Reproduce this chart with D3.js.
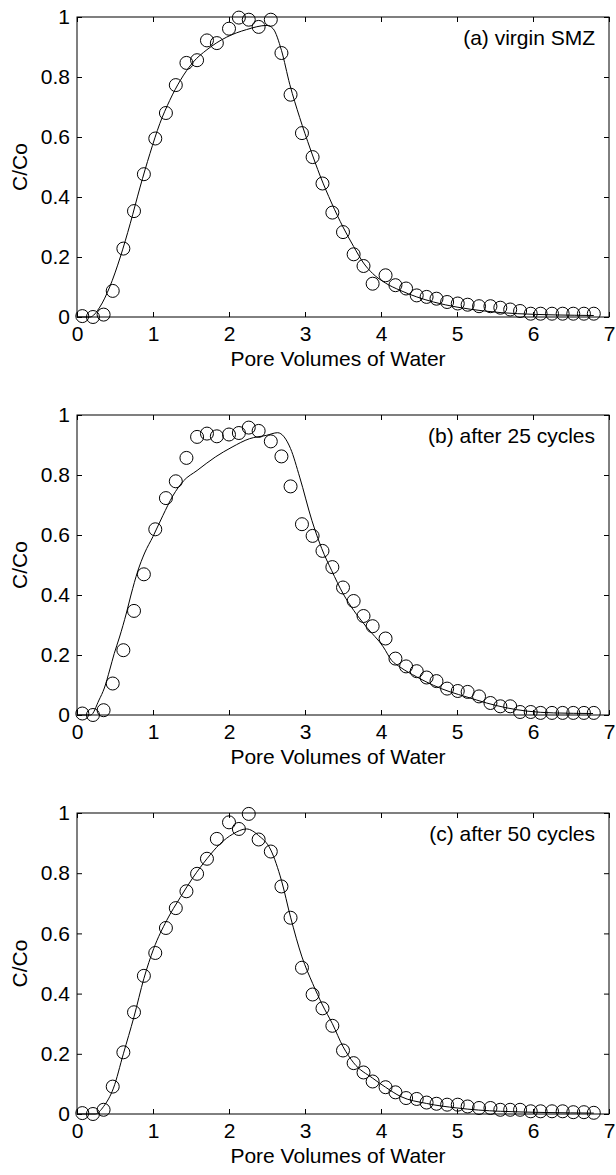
<!DOCTYPE html>
<html>
<head>
<meta charset="utf-8">
<script src="https://cdn.jsdelivr.net/npm/d3@7"></script>
<style>
  body { margin: 0; background: #fff; }
  text { font-family: Arial, "Liberation Sans", sans-serif; fill: #000; }
</style>
</head>
<body>
<script>
// measured pore volumes (same for all three runs)
var poreVolumes = [0.07, 0.21, 0.35, 0.47, 0.61, 0.75, 0.88, 1.03, 1.17, 1.30,
  1.44, 1.58, 1.71, 1.84, 2.00, 2.13, 2.26, 2.39, 2.55, 2.69,
  2.81, 2.96, 3.10, 3.23, 3.36, 3.50, 3.64, 3.77, 3.89, 4.06,
  4.19, 4.33, 4.47, 4.60, 4.73, 4.87, 5.01, 5.14, 5.29, 5.44,
  5.57, 5.70, 5.83, 5.97, 6.10, 6.25, 6.39, 6.53, 6.67, 6.80];

var obsVirgin = [0.003, 0.0, 0.008, 0.087, 0.228, 0.353, 0.476, 0.595, 0.68, 0.773,
  0.847, 0.856, 0.922, 0.913, 0.961, 0.998, 0.991, 0.967, 0.991, 0.88,
  0.741, 0.613, 0.533, 0.445, 0.348, 0.283, 0.209, 0.17, 0.111, 0.139,
  0.106, 0.095, 0.072, 0.067, 0.061, 0.05, 0.045, 0.041, 0.036, 0.036,
  0.031, 0.025, 0.02, 0.011, 0.011, 0.011, 0.011, 0.011, 0.011, 0.011];

var obs25 = [0.005, 0.0, 0.016, 0.105, 0.216, 0.347, 0.469, 0.619, 0.723, 0.779,
  0.857, 0.927, 0.938, 0.929, 0.935, 0.94, 0.958, 0.947, 0.912, 0.862,
  0.762, 0.636, 0.597, 0.547, 0.493, 0.425, 0.38, 0.33, 0.296, 0.255,
  0.188, 0.162, 0.146, 0.125, 0.113, 0.088, 0.08, 0.077, 0.062, 0.04,
  0.029, 0.029, 0.01, 0.01, 0.007, 0.007, 0.007, 0.007, 0.007, 0.007];

var obs50 = [0.003, 0.0, 0.014, 0.091, 0.205, 0.338, 0.459, 0.535, 0.618, 0.684,
  0.74, 0.798, 0.848, 0.914, 0.969, 0.947, 0.997, 0.912, 0.872, 0.756,
  0.652, 0.486, 0.397, 0.351, 0.293, 0.211, 0.169, 0.138, 0.108, 0.089,
  0.072, 0.053, 0.05, 0.038, 0.034, 0.031, 0.031, 0.025, 0.02, 0.02,
  0.014, 0.014, 0.014, 0.009, 0.009, 0.009, 0.009, 0.006, 0.006, 0.004];

// fitted model curves, [pore volume, C/Co]
var fitVirgin = [[0, 0], [0.17, 0], [0.30, 0.033], [0.43, 0.10], [0.57, 0.20], [0.70, 0.311],
  [0.83, 0.433], [0.96, 0.545], [1.09, 0.645], [1.22, 0.722], [1.36, 0.789], [1.53, 0.85],
  [1.71, 0.891], [1.97, 0.933], [2.23, 0.958], [2.50, 0.972], [2.58, 0.961], [2.69, 0.889],
  [2.80, 0.775], [2.93, 0.665], [3.07, 0.56], [3.20, 0.47], [3.35, 0.38], [3.50, 0.30],
  [3.64, 0.235], [3.77, 0.18], [3.89, 0.145], [4.06, 0.113], [4.25, 0.089], [4.47, 0.067],
  [4.69, 0.05], [5.0, 0.033], [5.36, 0.02], [5.8, 0.011], [6.8, 0.005]];

var fit25 = [[0, 0], [0.18, 0], [0.29, 0.05], [0.36, 0.09], [0.43, 0.15], [0.49, 0.205],
  [0.56, 0.26], [0.65, 0.34], [0.71, 0.40], [0.80, 0.48], [0.89, 0.54], [1.0, 0.595],
  [1.13, 0.665], [1.26, 0.73], [1.40, 0.78], [1.58, 0.815], [1.82, 0.86], [2.04, 0.893],
  [2.27, 0.921], [2.49, 0.932], [2.64, 0.941], [2.81, 0.888], [2.93, 0.793], [3.09, 0.649],
  [3.22, 0.555], [3.35, 0.482], [3.50, 0.405], [3.64, 0.349], [3.81, 0.293], [4.03, 0.227],
  [4.14, 0.182], [4.25, 0.16], [4.47, 0.127], [4.69, 0.099], [4.91, 0.077], [5.13, 0.06],
  [5.39, 0.04], [5.65, 0.024], [5.92, 0.013], [6.27, 0.007], [6.79, 0.005]];

var fit50 = [[0, 0], [0.24, 0], [0.35, 0.025], [0.48, 0.086], [0.61, 0.20], [0.75, 0.323],
  [0.88, 0.45], [1.01, 0.55], [1.18, 0.643], [1.36, 0.72], [1.53, 0.787], [1.71, 0.848],
  [1.88, 0.897], [2.05, 0.93], [2.23, 0.947], [2.39, 0.925], [2.55, 0.877], [2.69, 0.776],
  [2.81, 0.654], [2.96, 0.522], [3.10, 0.434], [3.23, 0.362], [3.36, 0.30], [3.50, 0.224],
  [3.64, 0.17], [3.89, 0.119], [4.06, 0.089], [4.26, 0.058], [4.6, 0.035], [5.0, 0.02],
  [5.57, 0.009], [6.8, 0.003]];

var panelLabels = ["(a) virgin SMZ", "(b) after 25 cycles", "(c) after 50 cycles"];
var xTicks = [0, 1, 2, 3, 4, 5, 6, 7];
var yTicks = [0, 0.2, 0.4, 0.6, 0.8, 1];

var panels = [
  {obs: obsVirgin, fit: fitVirgin, label: panelLabels[0], top: 17, h: 300},
  {obs: obs25, fit: fit25, label: panelLabels[1], top: 415, h: 300},
  {obs: obs50, fit: fit50, label: panelLabels[2], top: 813, h: 301}
];

var width = 616, height = 1175;
var left = 77, right = 609;
var fs = 21;

var svg = d3.select("body").append("svg")
  .attr("width", width)
  .attr("height", height);

var x = d3.scaleLinear().domain([0, 7]).range([left, right]);

panels.forEach(function(p) {
  var y = d3.scaleLinear().domain([0, 1]).range([p.top + p.h, p.top]);
  var g = svg.append("g");

  // inward ticks on all four sides, labels only bottom/left
  var xb = g.append("g").attr("transform", "translate(0," + (p.top + p.h) + ")")
    .call(d3.axisBottom(x).tickValues(xTicks).tickSizeInner(-5).tickSizeOuter(0).tickPadding(9).tickFormat(d3.format("d")));
  var xt = g.append("g").attr("transform", "translate(0," + p.top + ")")
    .call(d3.axisTop(x).tickValues(xTicks).tickSizeInner(-5).tickSizeOuter(0).tickFormat(""));
  var yl = g.append("g").attr("transform", "translate(" + left + ",0)")
    .call(d3.axisLeft(y).tickValues(yTicks).tickSizeInner(-5).tickSizeOuter(0).tickPadding(7).tickFormat(function(d) { return d3.format("")(+d.toFixed(1)); }));
  var yr = g.append("g").attr("transform", "translate(" + right + ",0)")
    .call(d3.axisRight(y).tickValues(yTicks).tickSizeInner(-5).tickSizeOuter(0).tickFormat(""));

  [xb, xt, yl, yr].forEach(function(a) {
    a.select(".domain").remove();
    a.selectAll("line").attr("stroke", "#000");
    a.selectAll("text").style("font-size", fs + "px").attr("fill", "#000");
  });

  g.append("rect")
    .attr("x", left).attr("y", p.top)
    .attr("width", right - left).attr("height", p.h)
    .attr("fill", "none").attr("stroke", "#000").attr("stroke-width", 1);

  var line = d3.line()
    .x(function(d) { return x(d[0]); })
    .y(function(d) { return y(d[1]); })
    .curve(d3.curveMonotoneX);

  g.append("path")
    .datum(p.fit)
    .attr("d", line)
    .attr("fill", "none")
    .attr("stroke", "#000")
    .attr("stroke-width", 1);

  g.selectAll("circle.obs")
    .data(p.obs)
    .enter().append("circle")
    .attr("class", "obs")
    .attr("cx", function(d, i) { return x(poreVolumes[i]); })
    .attr("cy", function(d) { return y(d); })
    .attr("r", 6.5)
    .attr("fill", "none")
    .attr("stroke", "#000")
    .attr("stroke-width", 1);

  g.append("text")
    .attr("x", right - 14)
    .attr("y", p.top + 28)
    .attr("text-anchor", "end")
    .style("font-size", fs + "px")
    .text(p.label);

  g.append("text")
    .attr("x", (left + right) / 2 - 5)
    .attr("y", p.top + p.h + 49)
    .attr("text-anchor", "middle")
    .style("font-size", fs + "px")
    .text("Pore Volumes of Water");

  g.append("text")
    .attr("transform", "translate(27," + (p.top + p.h / 2) + ") rotate(-90)")
    .attr("text-anchor", "middle")
    .style("font-size", fs + "px")
    .text("C/Co");
});
</script>
</body>
</html>
